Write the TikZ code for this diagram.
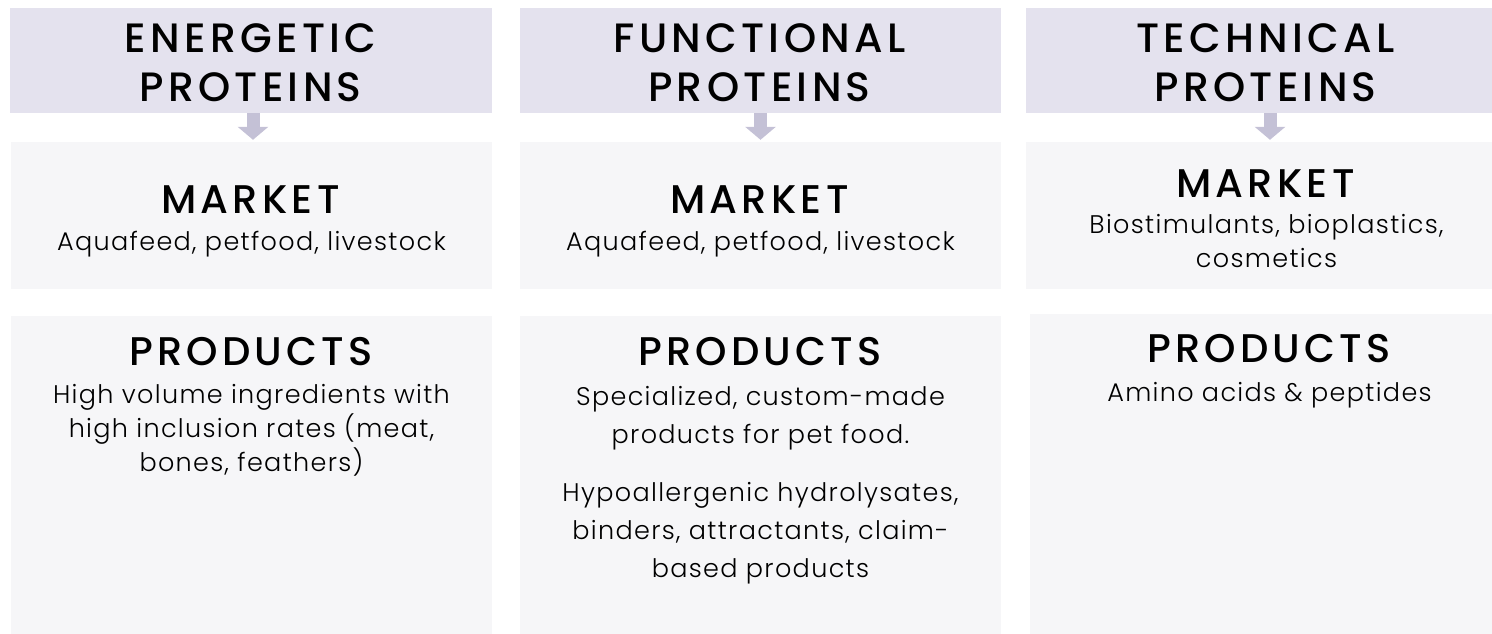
\documentclass[tikz,border=0pt]{standalone}
\usepackage{fontspec}
\setmainfont{Poppins}[UprightFont=* Light,BoldFont=* Medium,
  UprightFeatures={LetterSpace=5.2},BoldFeatures={LetterSpace=10.5}]
\usepackage{tikz}
\usetikzlibrary{arrows.meta}
\definecolor{headfill}{RGB}{228,226,238}
\definecolor{arrowfill}{RGB}{196,193,214}
\definecolor{cellfill}{RGB}{246,246,248}
\newcommand{\headfont}{\fontsize{41}{49}\selectfont\bfseries}
\newcommand{\titlefont}{\fontsize{40}{48}\selectfont\bfseries}
\newcommand{\bodyfont}{\fontsize{25.5}{34}\selectfont}
\newcommand{\bodyfontwide}{\fontsize{25.5}{38}\selectfont}

\begin{document}
\begin{tikzpicture}[x=1pt,y=-1pt]
  \tikzstyle{HeadStyle}=[fill=headfill,inner sep=0pt,minimum height=105pt]
  \tikzstyle{CellStyle}=[fill=cellfill,inner sep=0pt]
  \tikzstyle{HeadText}=[anchor=north,inner sep=0pt,align=center,font=\headfont]
  \tikzstyle{TitleStyle}=[anchor=base,inner sep=0pt,font=\titlefont]
  \tikzstyle{TextStyle}=[anchor=north,inner sep=0pt,align=center,font=\bodyfont]
  \useasboundingbox (0,0) rectangle (1492,633);
  % boxes
  \node[HeadStyle,minimum width=482pt] (HE) at (251,60.5) {};
  \node[HeadStyle,minimum width=481pt] (HF) at (760.5,60.5) {};
  \node[HeadStyle,minimum width=484pt] (HT) at (1268,60.5) {};
  \node[CellStyle,minimum width=481pt,minimum height=147pt] (ME) at (251.5,215.5) {};
  \node[CellStyle,minimum width=481pt,minimum height=147pt] (MF) at (760.5,215.5) {};
  \node[CellStyle,minimum width=484pt,minimum height=147pt] (MT) at (1268,215.5) {};
  \node[CellStyle,minimum width=481pt,minimum height=334pt] (PE) at (251.5,483) {};
  \node[CellStyle,minimum width=481pt,minimum height=334pt] (PF) at (760.5,483) {};
  \node[CellStyle,minimum width=480pt,minimum height=336pt] (PT) at (1270,482) {};
  % headers
  \node[HeadText] (hE) at (250.5,23) {ENERGETIC\\PROTEINS};
  \node[HeadText] (hF) at (759.5,23) {FUNCTIONAL\\PROTEINS};
  \node[HeadText] (hT) at (1265.5,23) {TECHNICAL\\PROTEINS};
  % market
  \node[TitleStyle] (mE) at (250.5,213) {MARKET};
  \node[TextStyle] (mEt) at (251.5,231) {Aquafeed, petfood, livestock};
  \node[TitleStyle] (mF) at (759.5,213) {MARKET};
  \node[TextStyle] (mFt) at (760.5,231) {Aquafeed, petfood, livestock};
  \node[TitleStyle] (mT) at (1265.5,197) {MARKET};
  \node[TextStyle] (mTt) at (1266.5,214) {Biostimulants, bioplastics,\\cosmetics};
  % products
  \node[TitleStyle] (pE) at (251,365) {PRODUCTS};
  \node[TextStyle] (pEt) at (251.5,384) {High volume ingredients with\\high inclusion rates (meat,\\bones, feathers)};
  \node[TitleStyle] (pF) at (760,365) {PRODUCTS};
  \node[TextStyle,font=\bodyfontwide] (pFt) at (760.5,386) {Specialized, custom-made\\products for pet food.};
  \node[TextStyle,font=\bodyfontwide] (pFu) at (760.5,482) {Hypoallergenic hydrolysates,\\binders, attractants, claim-\\based products};
  \node[TitleStyle] (pT) at (1269,362) {PRODUCTS};
  \node[TextStyle] (pTt) at (1269.5,382) {Amino acids \& peptides};
  % arrows
  \tikzstyle{EdgeStyle}=[arrowfill,line width=13pt,shorten >=2pt,-{Triangle[width=30pt,length=13pt]}]
  \draw[EdgeStyle] ([xshift=2pt]HE.south) -- ([xshift=1.5pt]ME.north);
  \draw[EdgeStyle] (HF.south) -- (MF.north);
  \draw[EdgeStyle] ([xshift=2pt]HT.south) -- ([xshift=2pt]MT.north);
\end{tikzpicture}
\end{document}
